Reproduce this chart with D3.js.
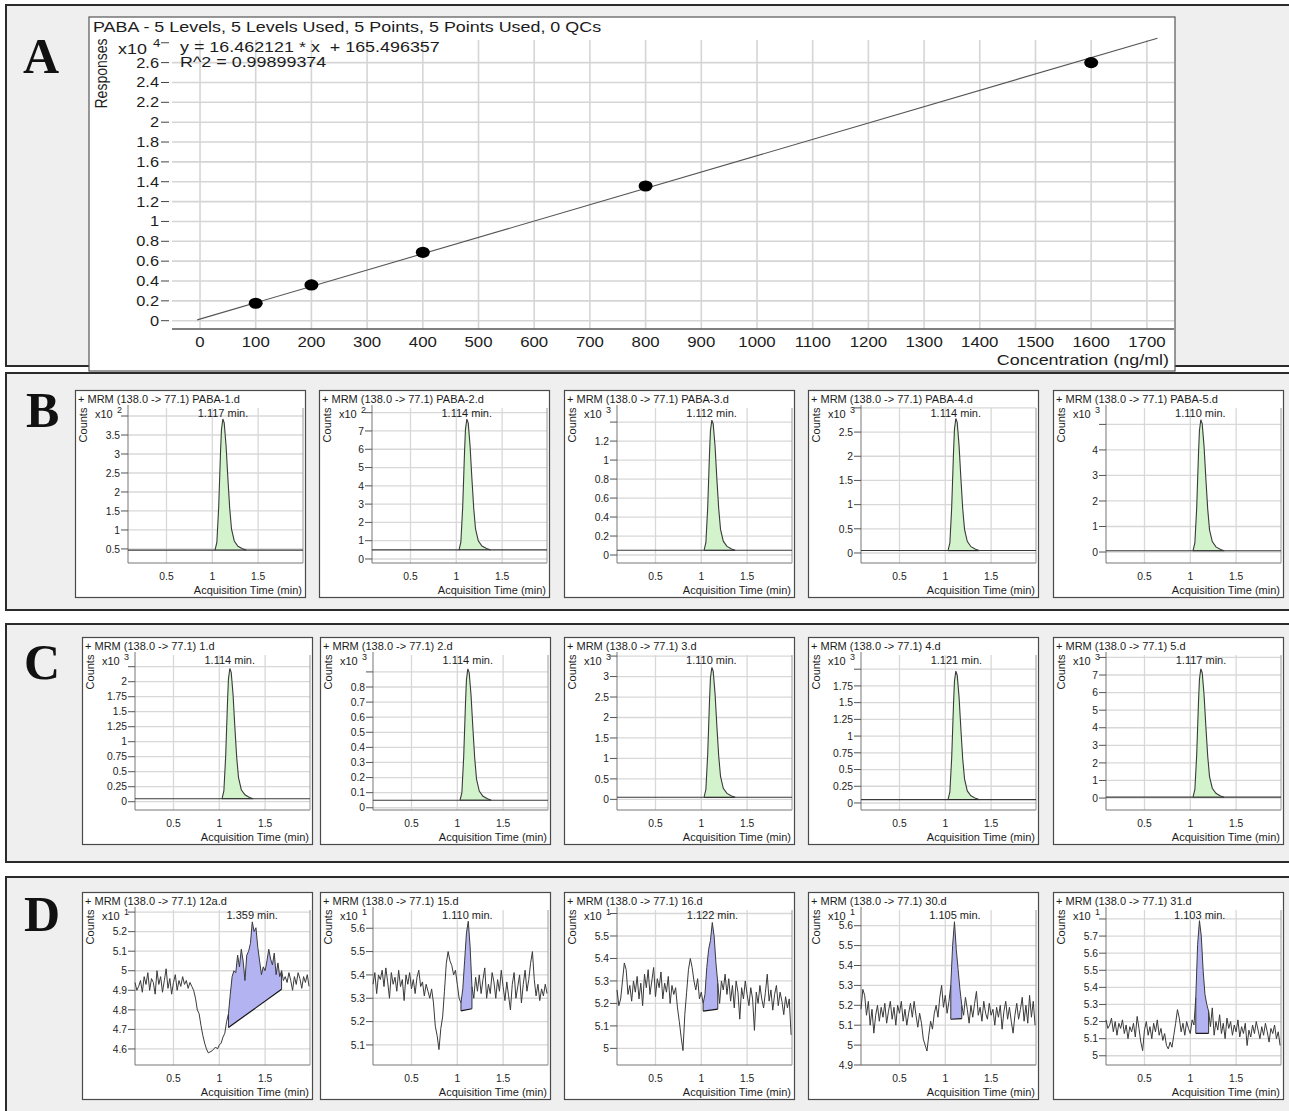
<!DOCTYPE html>
<html><head><meta charset="utf-8">
<script src="https://cdn.jsdelivr.net/npm/d3@7"></script>
<style>
body{margin:0;background:#fff;}
svg text{font-family:"Liberation Sans",Arial,Helvetica,sans-serif;white-space:pre;}
</style></head><body>
<svg id="c" width="1289" height="1111"></svg>
<script>
// ---------------- DATA ----------------
// Panel A: calibration curve (responses, raw counts)
const calConc = [100, 200, 400, 800, 1600];
const calResp = [1760, 3600, 6890, 13570, 26000];
const calFitX = [-5, 1719];
const calFitY = [83, 28460];
const calXTicks = [0,100,200,300,400,500,600,700,800,900,1000,1100,1200,1300,1400,1500,1600,1700];
const calYTicks = [0,2000,4000,6000,8000,10000,12000,14000,16000,18000,20000,22000,24000,26000];
const calYTickLabels = ['0','0.2','0.4','0.6','0.8','1','1.2','1.4','1.6','1.8','2','2.2','2.4','2.6'];
const calYHiddenTick = 28000;
const calXDomain = [-47.6, 1748.7];
const calYDomain = [-836, 28480];
const calTitle = 'PABA - 5 Levels, 5 Levels Used, 5 Points, 5 Points Used, 0 QCs';
const calEquation = 'y = 16.462121 * x  + 165.496357';
const calR2 = 'R^2 = 0.99899374';

// Chromatograms: common time axis
const timeDomain = [0.08, 1.99];
const timeTicks = [0.5, 1, 1.5];
const peakTimes = [0.08, 1.03, 1.05, 1.07, 1.09, 1.10, 1.115, 1.13, 1.15, 1.17, 1.19, 1.21, 1.24, 1.28, 1.33, 1.37, 1.99];

// Row B (standards)
const bTitles = ['+ MRM (138.0 -> 77.1) PABA-1.d','+ MRM (138.0 -> 77.1) PABA-2.d','+ MRM (138.0 -> 77.1) PABA-3.d','+ MRM (138.0 -> 77.1) PABA-4.d','+ MRM (138.0 -> 77.1) PABA-5.d'];
const bRT = ['1.117 min.','1.114 min.','1.112 min.','1.114 min.','1.110 min.'];
const bExp = ['2','2','3','3','3'];
const bTicks = [[0.5,1,1.5,2,2.5,3,3.5],[0,1,2,3,4,5,6,7],[0,0.2,0.4,0.6,0.8,1,1.2],[0,0.5,1,1.5,2,2.5],[0,1,2,3,4]];
const bTopGrid = [4, 8, 1.4, 3, 5];
const bDomain = [[0.13,4.29],[-0.22,8.42],[-0.084,1.58],[-0.207,3.06],[-0.43,5.76]];
const bPeaks = [
  [0.47,0.47,0.68,1.61,3.06,3.64,3.92,3.82,3.23,2.37,1.57,1.02,0.71,0.57,0.505,0.47,0.47],
  [0.5,0.5,0.93,2.86,5.86,7.08,7.65,7.44,6.22,4.43,2.79,1.64,1.0,0.71,0.57,0.5,0.5],
  [0.05,0.05,0.13,0.50,1.08,1.31,1.42,1.38,1.15,0.80,0.49,0.27,0.146,0.091,0.064,0.05,0.05],
  [0.05,0.05,0.21,0.95,2.10,2.56,2.78,2.70,2.23,1.55,0.92,0.49,0.24,0.13,0.077,0.05,0.05],
  [0.05,0.05,0.36,1.74,3.90,4.77,5.18,5.03,4.15,2.87,1.69,0.87,0.41,0.20,0.10,0.05,0.05]
];

// Row C (samples)
const cTitles = ['+ MRM (138.0 -> 77.1) 1.d','+ MRM (138.0 -> 77.1) 2.d','+ MRM (138.0 -> 77.1) 3.d','+ MRM (138.0 -> 77.1) 4.d','+ MRM (138.0 -> 77.1) 5.d'];
const cRT = ['1.114 min.','1.114 min.','1.110 min.','1.121 min.','1.117 min.'];
const cExp = ['3','3','3','3','3'];
const cTicks = [[0,0.25,0.5,0.75,1,1.25,1.5,1.75,2],[0,0.1,0.2,0.3,0.4,0.5,0.6,0.7,0.8],[0,0.5,1,1.5,2,2.5,3],[0,0.25,0.5,0.75,1,1.25,1.5,1.75],[0,1,2,3,4,5,6,7]];
const cTopGrid = [2.25, 0.9, 3.5, 2, 8];
const cDomain = [[-0.138,2.495],[-0.015,1.032],[-0.26,3.60],[-0.105,2.257],[-0.68,8.31]];
const cPeaks = [
  [0.05,0.05,0.18,0.77,1.68,2.05,2.22,2.155,1.79,1.24,0.74,0.40,0.20,0.115,0.072,0.05,0.05],
  [0.05,0.05,0.10,0.34,0.70,0.85,0.92,0.894,0.746,0.53,0.33,0.19,0.11,0.076,0.059,0.05,0.05],
  [0.05,0.05,0.24,1.10,2.43,2.97,3.22,3.13,2.59,1.79,1.06,0.56,0.27,0.145,0.082,0.05,0.05],
  [0.05,0.05,0.165,0.68,1.49,1.82,1.97,1.91,1.59,1.11,0.66,0.36,0.18,0.108,0.069,0.05,0.05],
  [0.05,0.05,0.49,2.46,5.53,6.77,7.35,7.13,5.89,4.07,2.39,1.22,0.56,0.27,0.12,0.05,0.05]
];

// Row D (noisy samples)
const dTitles = ['+ MRM (138.0 -> 77.1) 12a.d','+ MRM (138.0 -> 77.1) 15.d','+ MRM (138.0 -> 77.1) 16.d','+ MRM (138.0 -> 77.1) 30.d','+ MRM (138.0 -> 77.1) 31.d'];
const dRT = ['1.359 min.','1.110 min.','1.122 min.','1.105 min.','1.103 min.'];
const dExp = ['1','1','1','1','1'];
const dTicks = [[4.6,4.7,4.8,4.9,5,5.1,5.2],[5.1,5.2,5.3,5.4,5.5,5.6],[5,5.1,5.2,5.3,5.4,5.5],[4.9,5,5.1,5.2,5.3,5.4,5.5,5.6],[5,5.1,5.2,5.3,5.4,5.5,5.6,5.7]];
const dTopGrid = [5.3, null, 5.6, null, 5.8];
const dDomain = [[4.518,5.326],[5.014,5.691],[4.926,5.629],[4.9,5.694],[4.946,5.87]];
// integration: [start time, end time, baseline at start, baseline at end]
const dInt = [[1.10,1.68,4.71,4.905],[1.04,1.16,5.246,5.255],[1.02,1.18,5.166,5.175],[1.06,1.18,5.13,5.133],[1.06,1.20,5.131,5.131]];
const dTimes = [0.08,0.10,0.12,0.14,0.16,0.18,0.20,0.22,0.24,0.26,0.28,0.30,0.32,0.34,0.36,0.38,0.40,0.42,0.44,0.46,0.48,0.50,
  0.52,0.54,0.56,0.58,0.60,0.62,0.64,0.66,0.68,0.70,0.72,0.74,0.76,0.78,0.80,0.82,0.84,0.86,0.88,0.90,
  0.92,0.94,0.96,0.98,1.00,1.02,1.04,1.06,1.08,1.10,1.12,1.14,1.16,1.18,1.20,1.22,1.24,1.26,1.28,1.30,
  1.32,1.34,1.36,1.38,1.40,1.42,1.44,1.46,1.48,1.50,1.52,1.54,1.56,1.58,1.60,1.62,1.64,1.66,1.68,1.70,
  1.72,1.74,1.76,1.78,1.80,1.82,1.84,1.86,1.88,1.90,1.92,1.94,1.96,1.98];
const dTraces = [
  [4.94,4.90,
   4.92,4.95,4.89,4.97,4.93,4.99,4.90,4.96,4.94,4.88,5.00,4.93,4.97,4.89,4.95,5.01,4.91,4.96,4.88,4.94,4.98,4.90,4.95,4.92,4.97,4.93,4.95,4.91,4.94,4.92,
   4.90,4.86,4.80,4.78,4.72,4.67,4.63,4.60,4.58,4.585,4.59,4.60,4.61,4.60,4.62,4.63,4.66,4.68,4.74,4.78,
   4.88,4.97,5.00,4.99,5.08,5.02,5.11,5.05,4.95,5.08,5.10,5.14,5.25,5.20,5.22,5.12,5.05,4.98,5.02,5.00,
   5.05,5.11,5.06,5.03,5.09,4.98,5.04,4.97,5.00,4.95,4.97,4.94,4.99,4.95,4.90,4.97,4.93,4.99,4.96,4.91,4.97,4.94,4.98,4.92],
  [5.36,5.41,
   5.32,5.40,5.38,5.42,5.35,5.43,5.37,5.30,5.41,5.36,5.39,5.33,5.42,5.35,5.38,5.29,5.40,5.36,5.41,5.34,5.38,5.32,5.39,5.42,5.35,5.37,5.31,5.36,5.33,5.30,
   5.34,5.28,5.18,5.14,5.08,5.17,5.22,5.33,5.45,5.50,5.46,5.44,5.40,5.42,5.36,5.30,5.28,5.34,5.46,5.58,
   5.63,5.52,5.35,5.30,5.39,5.33,5.40,5.32,5.38,5.43,5.30,5.36,5.32,5.41,5.37,5.30,5.38,5.33,5.42,5.35,
   5.29,5.37,5.31,5.25,5.36,5.41,5.30,5.35,5.40,5.28,5.36,5.42,5.33,5.38,5.45,5.50,5.38,5.31,5.36,5.29,5.34,5.31,5.36,5.32],
  [5.26,5.19,
   5.22,5.30,5.38,5.35,5.24,5.28,5.21,5.30,5.25,5.32,5.22,5.29,5.19,5.33,5.27,5.35,5.24,5.30,5.36,5.23,5.31,5.27,5.34,5.22,5.29,5.25,5.32,5.20,5.28,5.24,
   5.27,5.18,5.12,5.05,4.99,5.15,5.25,5.35,5.40,5.36,5.30,5.26,5.31,5.22,5.25,5.20,5.24,5.36,5.44,5.48,
   5.56,5.50,5.38,5.29,5.20,5.30,5.26,5.33,5.24,5.31,5.21,5.28,5.18,5.30,5.25,5.13,5.27,5.22,5.30,5.24,
   5.19,5.27,5.22,5.08,5.25,5.20,5.28,5.22,5.18,5.25,5.33,5.21,5.26,5.17,5.24,5.28,5.19,5.25,5.21,5.15,5.23,5.18,5.22,5.06],
  [5.18,5.28,
   5.25,5.15,5.22,5.10,5.18,5.06,5.15,5.20,5.12,5.19,5.14,5.21,5.11,5.17,5.22,5.13,5.19,5.10,5.20,5.16,5.22,5.12,5.18,5.10,5.16,5.21,5.14,5.22,5.15,5.09,
   5.16,5.11,5.03,5.00,4.97,5.05,5.12,5.08,5.16,5.20,5.14,5.24,5.30,5.19,5.25,5.16,5.22,5.30,5.50,5.62,
   5.48,5.38,5.28,5.20,5.15,5.24,5.18,5.11,5.20,5.14,5.21,5.27,5.15,5.19,5.12,5.22,5.16,5.13,5.21,5.15,
   5.18,5.10,5.19,5.14,5.20,5.08,5.17,5.22,5.13,5.19,5.12,5.06,5.15,5.21,5.13,5.18,5.24,5.12,5.20,5.11,5.25,5.14,5.22,5.10],
  [5.21,5.16,
   5.18,5.22,5.14,5.20,5.12,5.19,5.16,5.21,5.13,5.18,5.10,5.17,5.14,5.19,5.11,5.23,5.16,5.08,5.03,5.15,5.20,5.12,5.17,5.10,5.19,5.14,5.21,5.12,5.16,5.09,
   5.13,5.06,5.04,5.08,5.05,5.12,5.19,5.27,5.22,5.14,5.19,5.12,5.20,5.16,5.13,5.21,5.18,5.34,5.65,5.79,
   5.70,5.50,5.36,5.30,5.26,5.17,5.28,5.12,5.20,5.15,5.24,5.13,5.19,5.10,5.22,5.16,5.20,5.12,5.18,5.14,
   5.21,5.11,5.17,5.13,5.19,5.06,5.15,5.11,5.18,5.13,5.20,5.15,5.10,5.17,5.12,5.19,5.14,5.08,5.16,5.13,5.18,5.10,5.14,5.06]
];

// ---------------- LAYOUT ----------------
const svg = d3.select('#c');
const INK = '#1c1c1c';

function label(g, x, y, s, o = {}) {
  const fs = o.fs || 10, sx = o.sx || 1;
  let tr = `translate(${x},${y})` + (o.rot ? ` rotate(-90) scale(1,${sx})` : ` scale(${sx},1)`);
  const t = g.append('text').attr('transform', tr).attr('text-anchor', o.anchor || 'start')
    .attr('font-size', fs).attr('fill', o.fill || INK).text(s);
  if (o.family) t.style('font-family', o.family);
  if (o.weight) t.attr('font-weight', o.weight);
  return t;
}

// outer gray panels
[[5, 361], [373, 237], [624, 238], [877, 240]].forEach(([y, h]) => {
  svg.append('rect').attr('x', 6).attr('y', y).attr('width', 1300).attr('height', h)
    .attr('fill', '#efefef').attr('stroke', '#2b2b2b').attr('stroke-width', 2);
});
const serif = '"Liberation Serif","Times New Roman",serif';
[['A', 23, 73], ['B', 26, 427], ['C', 24, 679], ['D', 24, 931]].forEach(([s, x, y]) =>
  label(svg, x, y, s, { fs: 50, sx: 1, family: serif, weight: 'bold', fill: '#111' }));

// ---------------- PANEL A ----------------
const gA = svg.append('g');
gA.append('rect').attr('x', 89).attr('y', 17).attr('width', 1086).attr('height', 354)
  .attr('fill', '#fff').attr('stroke', '#555').attr('stroke-width', 1.2);
const ax = d3.scaleLinear().domain(calXDomain).range([173.5, 1174]);
const ay = d3.scaleLinear().domain(calYDomain).range([329, 38]);
const gridTop = 40;
calYTicks.forEach(v => gA.append('line').attr('x1', 172).attr('x2', 1174).attr('y1', ay(v)).attr('y2', ay(v))
  .attr('stroke', '#d5d5d5').attr('stroke-width', 1.6));
calXTicks.forEach(v => gA.append('line').attr('x1', ax(v)).attr('x2', ax(v)).attr('y1', gridTop).attr('y2', 329)
  .attr('stroke', '#d5d5d5').attr('stroke-width', 1.6));
calYTicks.concat([calYHiddenTick]).forEach(v => gA.append('line').attr('x1', 161).attr('x2', 169)
  .attr('y1', ay(v)).attr('y2', ay(v)).attr('stroke', '#444').attr('stroke-width', 1));
gA.append('line').attr('x1', 172).attr('x2', 1174).attr('y1', 329).attr('y2', 329).attr('stroke', '#555').attr('stroke-width', 1.3);
calYTicks.forEach((v, i) => label(gA, 159, ay(v) + 5, calYTickLabels[i], { fs: 14, sx: 1.17, anchor: 'end' }));
calXTicks.forEach(v => label(gA, ax(v), 347, String(v), { fs: 14, sx: 1.2, anchor: 'middle' }));
label(gA, 93, 32, calTitle, { fs: 14, sx: 1.28 });
label(gA, 180, 52, calEquation, { fs: 14, sx: 1.28 });
label(gA, 180, 67, calR2, { fs: 14, sx: 1.28 });
label(gA, 118, 54, 'x10', { fs: 14, sx: 1.28 });
label(gA, 153, 47, '4', { fs: 11, sx: 1.2 });
label(gA, 107, 73.5, 'Responses', { fs: 14, sx: 1.2, rot: true, anchor: 'middle' });
label(gA, 1169, 365, 'Concentration (ng/ml)', { fs: 14, sx: 1.28, anchor: 'end' });
gA.append('line').attr('x1', ax(calFitX[0])).attr('y1', ay(calFitY[0])).attr('x2', ax(calFitX[1])).attr('y2', ay(calFitY[1]))
  .attr('stroke', '#555').attr('stroke-width', 1.1);
calConc.forEach((c, i) => gA.append('ellipse').attr('cx', ax(c)).attr('cy', ay(calResp[i])).attr('rx', 7).attr('ry', 5.6).attr('fill', '#000'));

// ---------------- CHROMATOGRAMS ----------------
const W = 231, H = 208, PL = 53, PR = 228, PT = 15, PB = 173;
function chrom(x0, y0, o) {
  const g = svg.append('g').attr('transform', `translate(${x0},${y0})`);
  g.append('rect').attr('x', 0.5).attr('y', 0.5).attr('width', W - 1).attr('height', H - 1)
    .attr('fill', '#fff').attr('stroke', '#4a4a4a').attr('stroke-width', 1.2);
  const x = d3.scaleLinear().domain(timeDomain).range([PL, PR]);
  const y = d3.scaleLinear().domain(o.domain).range([PB, PT]);
  const grid = o.ticks.concat(o.top != null ? [o.top] : []);
  grid.forEach(v => g.append('line').attr('x1', PL).attr('x2', PR).attr('y1', y(v)).attr('y2', y(v))
    .attr('stroke', '#d8d8d8').attr('stroke-width', 1.3));
  timeTicks.forEach(t => g.append('line').attr('x1', x(t)).attr('x2', x(t)).attr('y1', PT + 3).attr('y2', PB)
    .attr('stroke', '#d8d8d8').attr('stroke-width', 1.3));
  g.append('line').attr('x1', PL).attr('x2', PL).attr('y1', PT).attr('y2', PB).attr('stroke', '#777');
  g.append('line').attr('x1', PL).attr('x2', PR).attr('y1', PB).attr('y2', PB).attr('stroke', '#777');
  g.append('line').attr('x1', PR).attr('x2', PR).attr('y1', PT + 3).attr('y2', PB).attr('stroke', '#9a9a9a');
  grid.forEach(v => g.append('line').attr('x1', PL - 7).attr('x2', PL).attr('y1', y(v)).attr('y2', y(v)).attr('stroke', '#555'));
  o.ticks.forEach(v => label(g, PL - 8, y(v) + 3.7, String(v), { fs: 10.3, anchor: 'end' }));
  timeTicks.forEach(t => label(g, x(t), 190, String(t), { fs: 10.3, anchor: 'middle' }));

  const line = d3.line().x(d => x(d[0])).y(d => y(d[1]));
  if (o.peak) {
    const pts = peakTimes.map((t, i) => [t, o.peak[i]]);
    const b = o.peak[0];
    const inner = pts.slice(1, 16);
    g.append('path').attr('d', d3.area().x(d => x(d[0])).y0(y(b)).y1(d => y(d[1]))(inner))
      .attr('fill', '#d3f3cd').attr('stroke', 'none');
    g.append('line').attr('x1', x(inner[0][0])).attr('x2', x(inner[inner.length - 1][0]))
      .attr('y1', y(b)).attr('y2', y(b)).attr('stroke', '#222').attr('stroke-width', 1.2);
    g.append('path').attr('d', line(pts)).attr('fill', 'none').attr('stroke', '#3a3a3a').attr('stroke-width', 1.1);
  }
  if (o.trace) {
    const pts = dTimes.map((t, i) => [t, o.trace[i]]);
    const [ts, te, bs, be] = o.integ;
    const seg = pts.filter(d => d[0] >= ts - 1e-6 && d[0] <= te + 1e-6);
    const poly = seg.concat([[te, be], [ts, bs]]);
    g.append('path').attr('d', line(poly) + 'Z').attr('fill', '#b3b3f2').attr('stroke', 'none');
    g.append('line').attr('x1', x(ts)).attr('x2', x(te)).attr('y1', y(bs)).attr('y2', y(be))
      .attr('stroke', '#111').attr('stroke-width', 1.2);
    g.append('line').attr('x1', x(ts)).attr('x2', x(ts)).attr('y1', y(bs)).attr('y2', y(seg[0][1]))
      .attr('stroke', '#333').attr('stroke-width', 1);
    g.append('line').attr('x1', x(te)).attr('x2', x(te)).attr('y1', y(be)).attr('y2', y(seg[seg.length - 1][1]))
      .attr('stroke', '#333').attr('stroke-width', 1);
    g.append('path').attr('d', line(pts)).attr('fill', 'none').attr('stroke', '#3a3a3a').attr('stroke-width', 1);
  }
  label(g, 3, 13, o.title, { fs: 11 });
  label(g, 12, 35, 'Counts', { fs: 11, rot: true, anchor: 'middle' });
  label(g, 20, 28, 'x10', { fs: 11 });
  label(g, 42, 23, o.exp, { fs: 9 });
  label(g, x(parseFloat(o.rt)), 27, o.rt, { fs: 11, anchor: 'middle' });
  label(g, 227, 204, 'Acquisition Time (min)', { fs: 11, anchor: 'end' });
}

const bX = [75, 319, 564, 808, 1053];
const cdX = [82, 320, 564, 808, 1053];
bTitles.forEach((t, i) => chrom(bX[i], 390, { title: t, rt: bRT[i], exp: bExp[i], ticks: bTicks[i], top: bTopGrid[i], domain: bDomain[i], peak: bPeaks[i] }));
cTitles.forEach((t, i) => chrom(cdX[i], 637, { title: t, rt: cRT[i], exp: cExp[i], ticks: cTicks[i], top: cTopGrid[i], domain: cDomain[i], peak: cPeaks[i] }));
dTitles.forEach((t, i) => chrom(cdX[i], 892, { title: t, rt: dRT[i], exp: dExp[i], ticks: dTicks[i], top: dTopGrid[i], domain: dDomain[i], trace: dTraces[i], integ: dInt[i] }));
</script>
</body></html>
